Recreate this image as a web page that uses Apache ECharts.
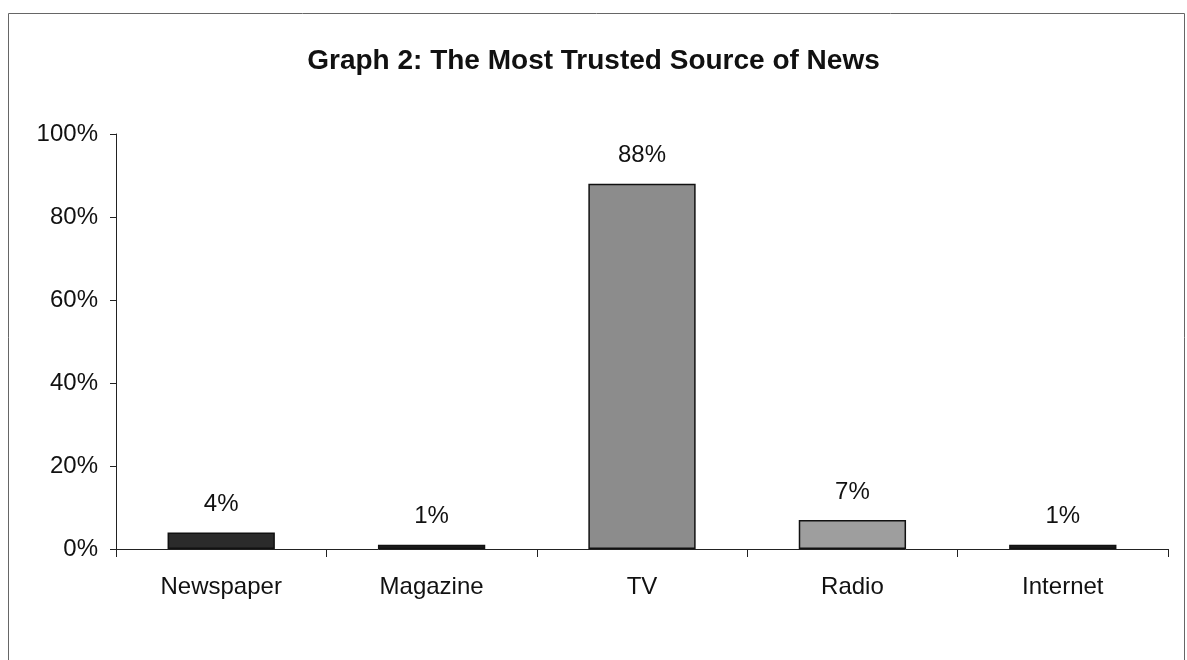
<!DOCTYPE html>
<html>
<head>
<meta charset="utf-8">
<script src="https://cdn.jsdelivr.net/npm/echarts@6/dist/echarts.min.js"></script>
<style>html,body{margin:0;padding:0;background:#fff}#c{width:1187px;height:660px}</style>
</head>
<body>
<div id="c"></div>
<script>
const categories = ['Newspaper', 'Magazine', 'TV', 'Radio', 'Internet'];
const values = [4, 1, 88, 7, 1];
const barColors = ['#2b2b2b', '#1e1e1e', '#8c8c8c', '#9e9e9e', '#1e1e1e'];
const yTicks = [0, 20, 40, 60, 80, 100];

const chart = echarts.init(document.getElementById('c'));
const font = '"Liberation Sans", Arial, sans-serif';
chart.setOption({
  animation: false,
  backgroundColor: '#fff',
  graphic: [{
    type: 'rect', silent: true,
    shape: { x: 8.5, y: 13.5, width: 1176, height: 700 },
    style: { fill: 'none', stroke: '#666', lineWidth: 1 }
  }],
  title: {
    text: 'Graph 2: The Most Trusted Source of News',
    left: 'center', top: 42,
    textStyle: { fontFamily: font, fontSize: 28, fontWeight: 'bold', color: '#111' }
  },
  grid: { left: 116, right: 19, top: 134, bottom: 111, containLabel: false },
  xAxis: {
    type: 'category',
    data: categories,
    axisLine: { lineStyle: { color: '#222', width: 1 } },
    axisTick: { show: true, length: 8, lineStyle: { color: '#222' } },
    axisLabel: { fontFamily: font, fontSize: 24, color: '#111', margin: 26 }
  },
  yAxis: {
    type: 'value', min: 0, max: 100, interval: 20,
    axisLine: { show: true, lineStyle: { color: '#222', width: 1 } },
    axisTick: { show: true, length: 6, lineStyle: { color: '#222' } },
    splitLine: { show: false },
    axisLabel: {
      fontFamily: font, fontSize: 24, color: '#111', margin: 18,
      formatter: v => (yTicks.includes(v) ? v + '%' : '')
    }
  },
  series: [{
    type: 'bar',
    data: values.map((v, i) => ({ value: v, itemStyle: { color: barColors[i] } })),
    barWidth: '51%',
    itemStyle: { borderColor: '#111', borderWidth: 1.5 },
    label: {
      show: true, position: 'top', distance: 16,
      formatter: p => p.value + '%',
      fontFamily: font, fontSize: 24, color: '#111'
    }
  }]
});
</script>
</body>
</html>
